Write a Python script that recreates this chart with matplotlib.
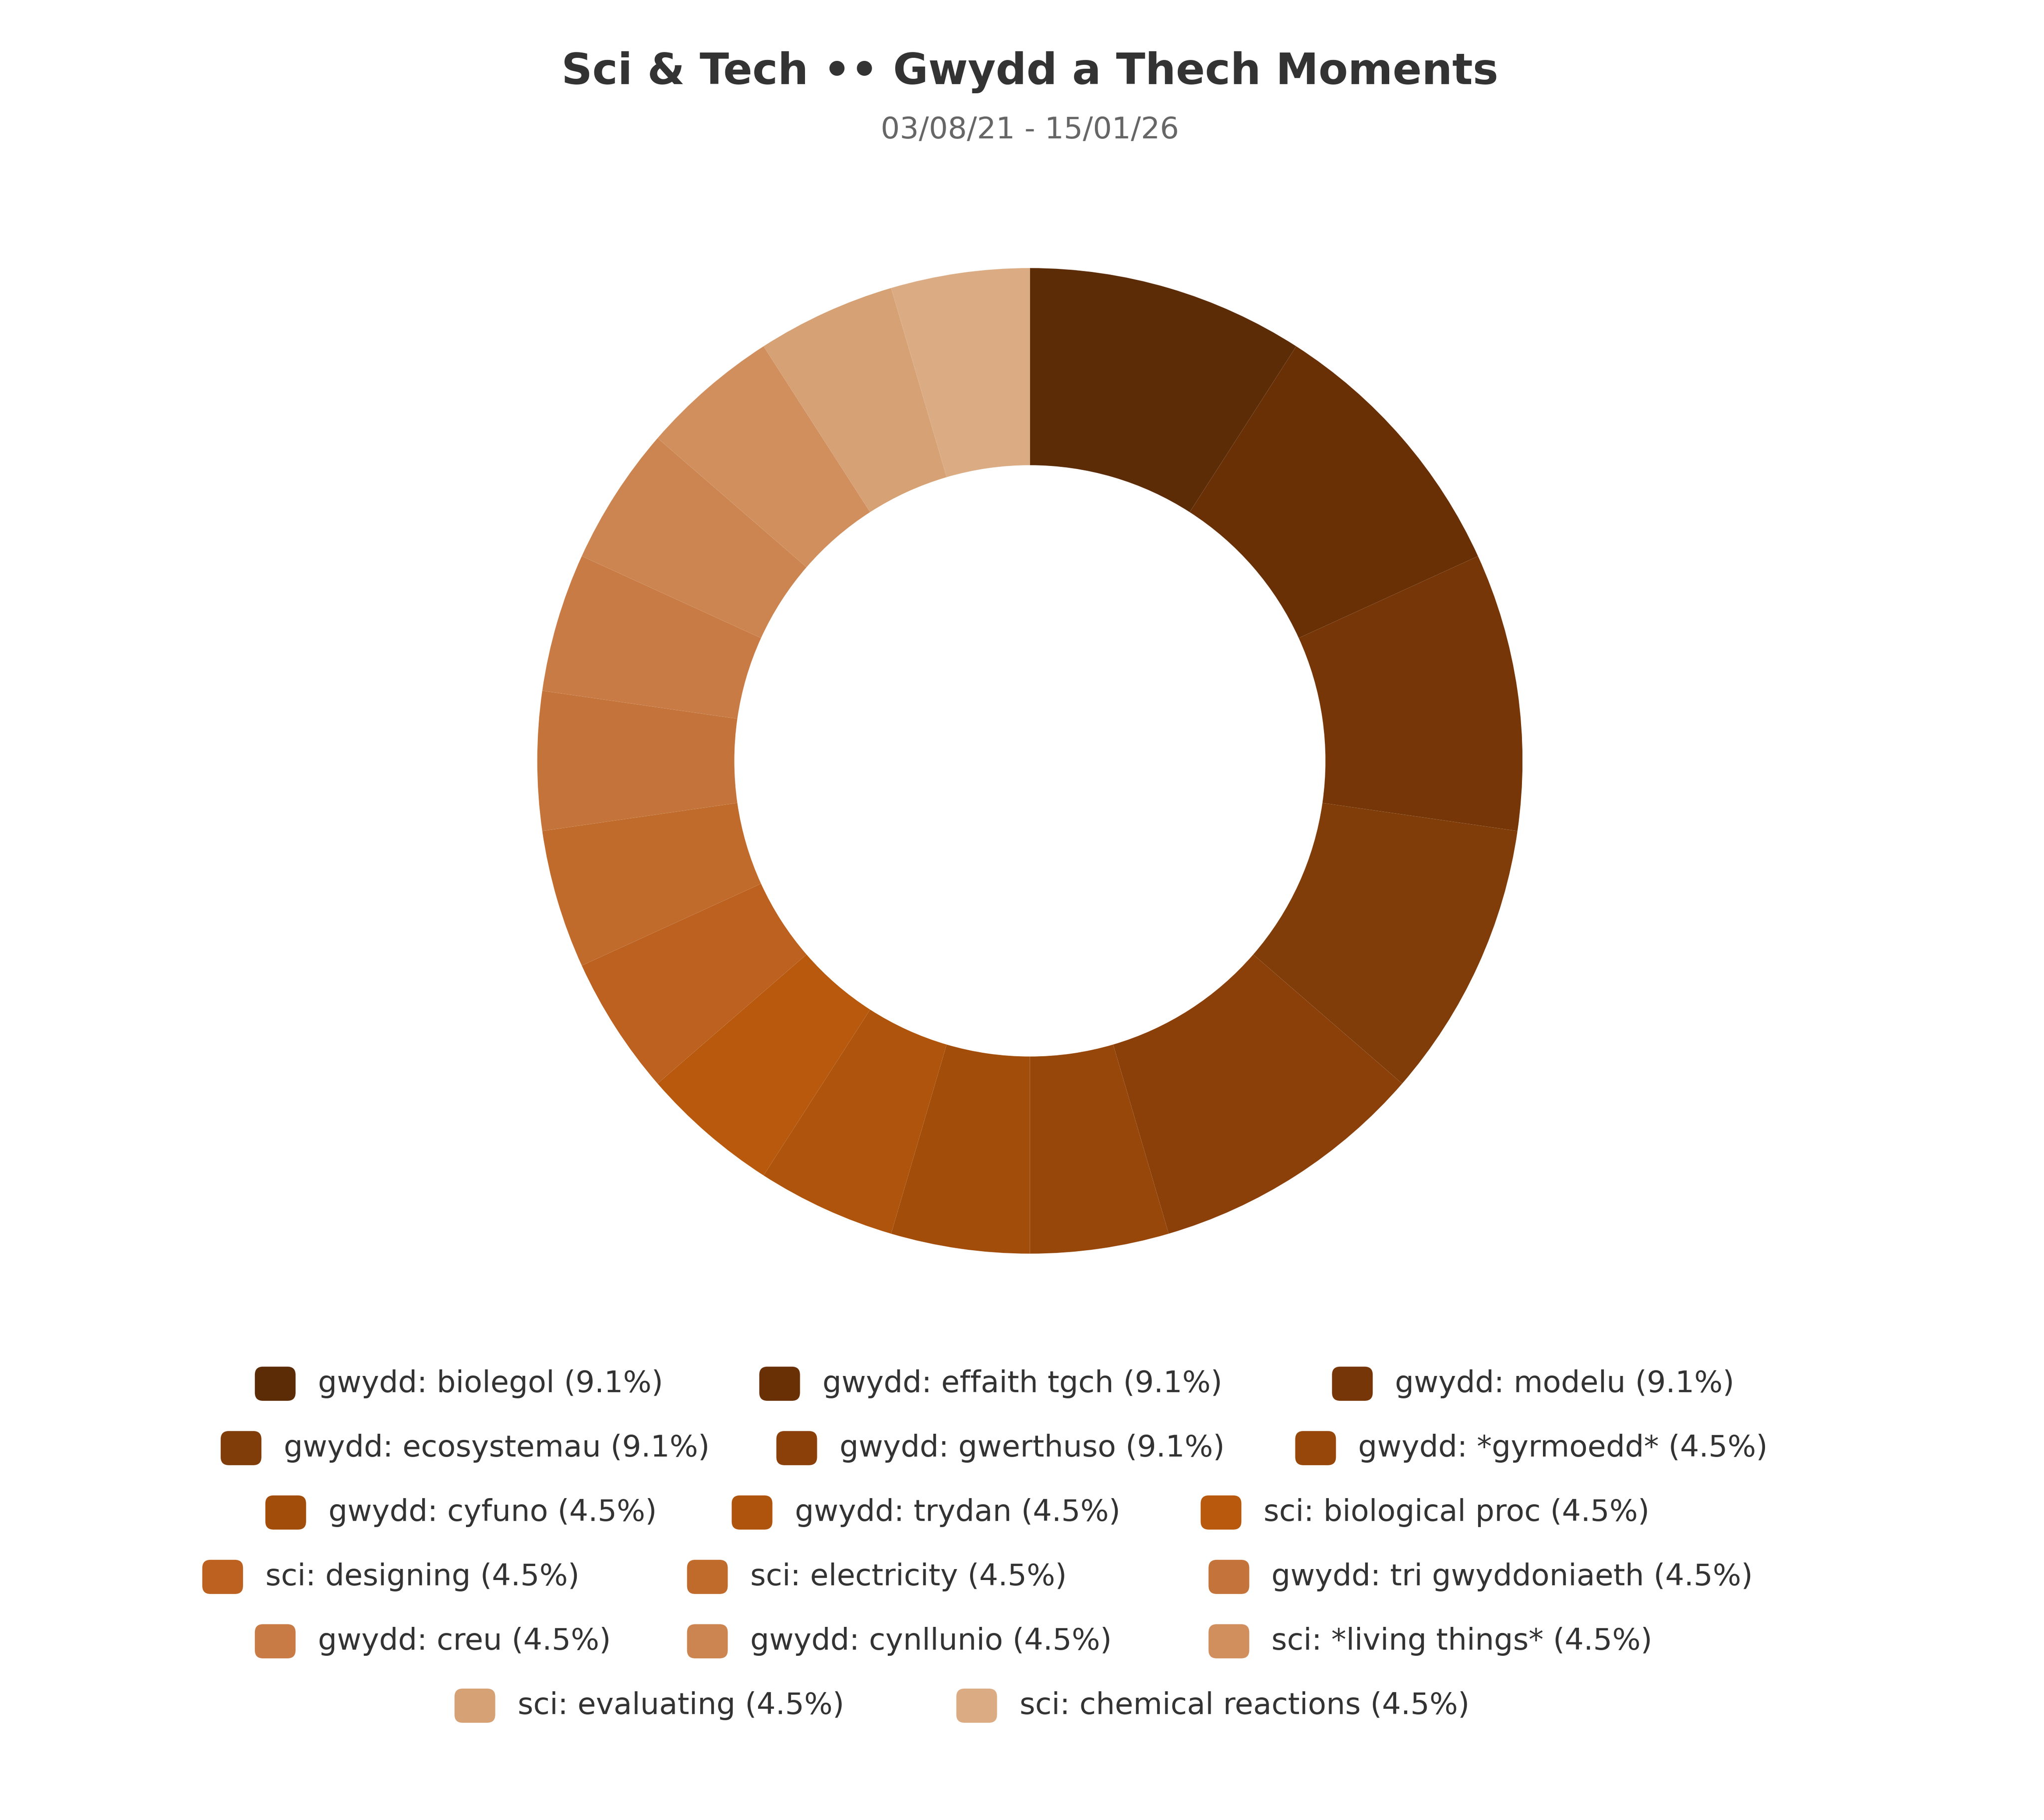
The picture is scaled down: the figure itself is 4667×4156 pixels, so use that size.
import matplotlib.pyplot as plt
from matplotlib.patches import FancyBboxPatch

# 数据
labels = [
  'gwydd: biolegol', 'gwydd: effaith tgch', 'gwydd: modelu', 'gwydd: ecosystemau',
  'gwydd: gwerthuso', 'gwydd: *gyrmoedd*', 'gwydd: cyfuno', 'gwydd: trydan',
  'sci: biological proc', 'sci: designing', 'sci: electricity', 'gwydd: tri gwyddoniaeth',
  'gwydd: creu', 'gwydd: cynllunio', 'sci: *living things*', 'sci: evaluating',
  'sci: chemical reactions',
]
counts = [2, 2, 2, 2, 2, 1, 1, 1, 1, 1, 1, 1, 1, 1, 1, 1, 1]
colors = [
  '#5c2c07', '#693006', '#763607', '#803d09', '#8b400a', '#974709', '#a24d0a',
  '#af540c', '#b8590d', '#bc6120', '#c06b2c', '#c4743a', '#c97b45', '#cc8550',
  '#d18f5e', '#d6a174', '#dbac84',
]
title = 'Sci & Tech •• Gwydd a Thech Moments'
subtitle = '03/08/21 - 15/01/26'

W, H = 1556, 1385  # 显示像素
fig = plt.figure(figsize=(4667 / 300, 4156 / 300), dpi=300)
fig.patch.set_facecolor('white')

# 环形图
cx, cy, r = 784, 579, 375
ax = fig.add_axes([(cx - r) / W, 1 - (cy + r) / H, 2 * r / W, 2 * r / H])
ax.pie(
  counts,
  colors=colors,
  startangle=90,
  counterclock=False,
  radius=1,
  wedgeprops=dict(width=0.4, edgecolor='none', linewidth=0),
)
ax.set_xlim(-1, 1)
ax.set_ylim(-1, 1)
ax.set_aspect('auto')
ax.axis('off')

fig.text(cx / W, 1 - 55 / H, title, ha='center', va='center', fontsize=23.5, fontweight='bold', color='#333333')
fig.text(cx / W, 1 - 99 / H, subtitle, ha='center', va='center', fontsize=16.4, color='#666666')

# 图例 (每行色块左边位置)
row_x = [
  [194, 578, 1014],
  [168, 591, 986],
  [202, 557, 914],
  [154, 523, 920],
  [194, 523, 920],
  [346, 728],
]
total = sum(counts)
legend_labels = [f'{l} ({c / total * 100:.1f}%)' for l, c in zip(labels, counts)]
sw_w, sw_h, gap = 31, 26, 17
fs = 16.4
y0, dy = 1053, 49
idx = 0
for row, xs in enumerate(row_x):
  y = y0 + row * dy
  for x in xs:
    patch = FancyBboxPatch(
      (x / W, 1 - (y + sw_h / 2) / H), sw_w / W, sw_h / H,
      boxstyle='round,pad=0,rounding_size=0.004',
      transform=fig.transFigure, facecolor=colors[idx], edgecolor='none',
      mutation_aspect=W / H,
    )
    fig.patches.append(patch)
    fig.text((x + sw_w + gap) / W, 1 - y / H, legend_labels[idx], ha='left', va='center',
             fontsize=fs, color='#333333')
    idx += 1

fig.savefig('out.png', dpi=300, facecolor='white')
